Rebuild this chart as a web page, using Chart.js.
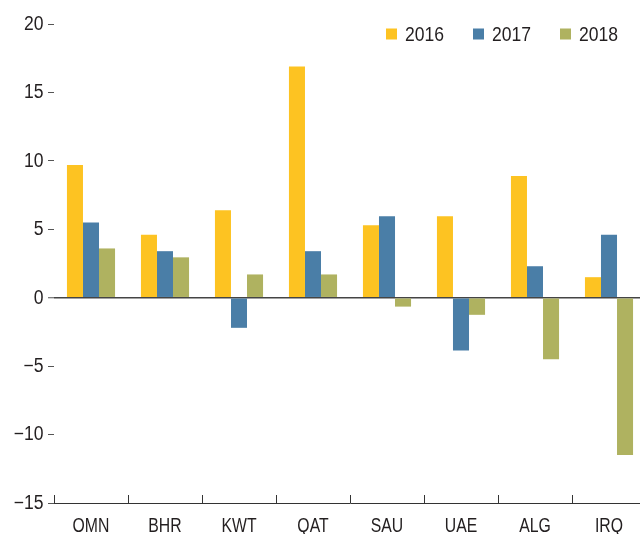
<!DOCTYPE html>
<html>
<head>
<meta charset="utf-8">
<script src="https://cdn.jsdelivr.net/npm/chart.js@4.4.1/dist/chart.umd.min.js"></script>
<style>
html,body{margin:0;padding:0;background:#fff;overflow:hidden;}
#wrap{position:absolute;left:0;top:0;width:648px;height:534px;}
</style>
</head>
<body>
<div id="wrap"><canvas id="c" width="648" height="534"></canvas></div>
<script>
const categories = ['OMN','BHR','KWT','QAT','SAU','UAE','ALG','IRQ'];
const seriesNames = ['2016','2017','2018'];
const values2016 = [9.7, 4.6, 6.4, 16.9, 5.3, 5.95, 8.9, 1.5];
const values2017 = [5.5, 3.4, -2.2, 3.4, 5.95, -3.85, 2.3, 4.6];
const values2018 = [3.6, 2.95, 1.7, 1.7, -0.65, -1.25, -4.5, -11.5];
const yTicks = [-15, -10, -5, 0, 5, 10, 15, 20];
const colors = ['#fdc322', '#4a7ea7', '#afb260'];

const FONT = '"Liberation Sans", Arial, sans-serif';
const TEXT = '#231f20';
const fmt = (v) => (v < 0 ? '\u2212' + Math.abs(v) : String(v));

function condensedText(ctx, text, x, y, sx, align, baseline) {
  ctx.save();
  ctx.translate(x, y);
  ctx.scale(sx, 1);
  ctx.textAlign = align;
  ctx.textBaseline = baseline;
  ctx.fillText(text, 0, 0);
  ctx.restore();
}

const labelPlugin = {
  id: 'condensedLabels',
  afterDraw(chart) {
    const ctx = chart.ctx;
    const xs = chart.scales.x, ys = chart.scales.y;
    ctx.save();
    ctx.fillStyle = TEXT;
    ctx.font = '19.5px ' + FONT;
    // y tick labels
    ys.ticks.forEach((t) => {
      const py = ys.getPixelForValue(t.value);
      condensedText(ctx, fmt(t.value), 43.5, py + 0.5, 0.9, 'right', 'middle');
    });
    // x category labels
    chart.data.labels.forEach((lab, i) => {
      condensedText(ctx, lab, xs.getPixelForValue(i), 532, 0.81, 'center', 'alphabetic');
    });
    // legend
    let x = 386;
    const y = 34;
    chart.data.datasets.forEach((ds) => {
      ctx.fillStyle = ds.backgroundColor;
      ctx.fillRect(x, y - 5.5, 11, 11);
      ctx.fillStyle = TEXT;
      condensedText(ctx, ds.label, x + 19, y + 7, 0.9, 'left', 'alphabetic');
      x += 87;
    });
    ctx.restore();
  }
};

const xTickPlugin = {
  id: 'xTicksUp',
  afterDraw(chart) {
    const xs = chart.scales.x;
    const ctx = chart.ctx;
    const bottom = chart.chartArea.bottom;
    const n = chart.data.labels.length;
    const w = (xs.getPixelForValue(1) - xs.getPixelForValue(0));
    ctx.save();
    ctx.strokeStyle = '#333';
    ctx.lineWidth = 1;
    for (let i = 0; i <= n; i++) {
      const px = Math.round(xs.getPixelForValue(0) - w / 2 + i * w) + 0.5;
      ctx.beginPath();
      ctx.moveTo(px, bottom);
      ctx.lineTo(px, bottom - 8);
      ctx.stroke();
    }
    ctx.restore();
  }
};

new Chart(document.getElementById('c'), {
  type: 'bar',
  data: {
    labels: categories,
    datasets: [
      { label: seriesNames[0], data: values2016, backgroundColor: colors[0] },
      { label: seriesNames[1], data: values2017, backgroundColor: colors[1] },
      { label: seriesNames[2], data: values2018, backgroundColor: colors[2] }
    ]
  },
  options: {
    responsive: false,
    animation: false,
    devicePixelRatio: 1,
    layout: { padding: { top: 24, right: 2, left: 0, bottom: 0 } },
    datasets: { bar: { categoryPercentage: 0.65, barPercentage: 1.0, borderWidth: 0 } },
    plugins: {
      legend: { display: false },
      tooltip: { enabled: false }
    },
    scales: {
      x: {
        offset: true,
        grid: { display: false, drawTicks: false },
        border: { display: true, color: '#333', width: 1 },
        ticks: { display: false },
        afterFit(axis) { axis.height = 31; }
      },
      y: {
        min: -15,
        max: 20,
        afterBuildTicks(axis) { axis.ticks = yTicks.map(v => ({ value: v })); },
        afterFit(axis) { axis.width = 54; },
        grid: {
          drawOnChartArea: true,
          color: (c) => (c.tick && c.tick.value === 0) ? '#444' : 'rgba(0,0,0,0)',
          lineWidth: (c) => (c.tick && c.tick.value === 0) ? 1.5 : 1,
          tickColor: '#555',
          tickLength: 6,
          tickWidth: 1
        },
        border: { display: false },
        ticks: { display: false }
      }
    }
  },
  plugins: [labelPlugin, xTickPlugin]
});
</script>
</body>
</html>
